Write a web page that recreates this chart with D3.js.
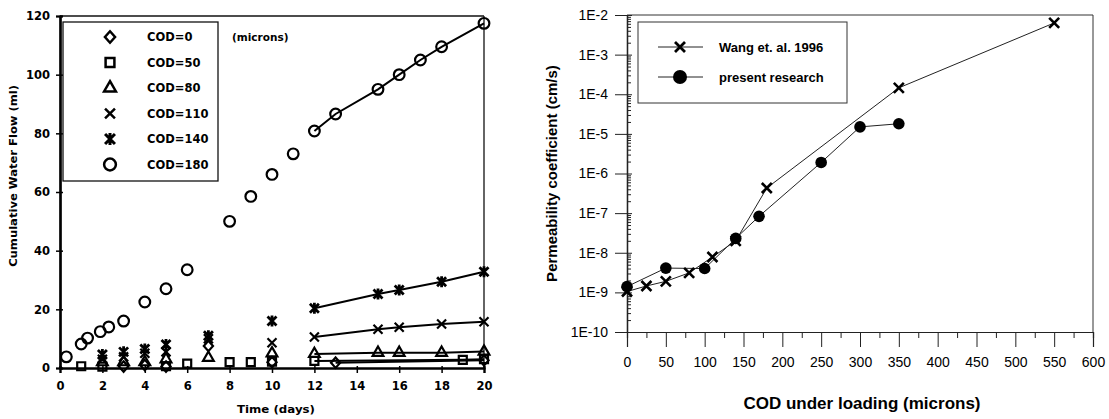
<!DOCTYPE html>
<html><head><meta charset="utf-8">
<script src="https://cdn.jsdelivr.net/npm/d3@7"></script>
<style>body{margin:0;background:#fff}</style>
</head><body>
<svg id="c" width="1109" height="419" xmlns="http://www.w3.org/2000/svg"></svg>
<script>
// ---------- Left chart data ----------
const timeTicks = [0,2,4,6,8,10,12,14,16,18,20];
const flowTicks = [0,20,40,60,80,100,120];
const codLabels = ["COD=0","COD=50","COD=80","COD=110","COD=140","COD=180"];
const cod0Days  = [3,4,5,7,10,13,20];
const cod0Flow  = [0.5,1,0.5,7.5,2,1.8,2.6];
const cod50Days = [1,2,5,6,8,9,10,12,19,20];
const cod50Flow = [0.6,0.5,0.6,1.5,2,2,2.2,2.4,2.8,3.0];
const cod80Days = [2,3,4,5,7,10,12,15,16,18,20];
const cod80Flow = [2,2,2,3,3.5,5,4.8,5.2,5.2,5.2,5.6];
const cod110Days = [2,3,4,5,7,10,12,15,16,18,20];
const cod110Flow = [3,3.8,5,5.5,10,8.6,10.6,13.2,13.9,15,15.8];
const cod140Days = [2,3,4,5,7,10,12,15,16,18,20];
const cod140Flow = [4.6,5.5,6.5,8,11,16,20.4,25.2,26.6,29.4,32.8];
const cod180Days = [0.3,1,1.3,1.9,2.3,3,4,5,6,8,9,10,11,12,13,15,16,17,18,20];
const cod180Flow = [3.8,8.2,10.2,12.4,14,16,22.5,27,33.5,50,58.5,66,73,80.8,86.6,95,100,105,109.5,117.5];
const fitFromDay = 12;
const micronsNote = "(microns)";

// ---------- Right chart data ----------
const codTicks = [0,50,100,150,200,250,300,350,400,450,500,550,600];
const permTickExp = [-10,-9,-8,-7,-6,-5,-4,-3,-2];
const wangCOD = [0,25,50,80,110,140,180,350,550];
const wangK   = [1.05e-9,1.45e-9,1.9e-9,3.1e-9,7.8e-9,2.0e-8,4.3e-7,1.45e-4,6.3e-3];
const presentCOD = [0,50,100,140,170,250,300,350];
const presentK   = [1.4e-9,4.1e-9,4.0e-9,2.3e-8,8.3e-8,1.9e-6,1.5e-5,1.8e-5];
const rightLegend = ["Wang et. al. 1996","present research"];

const svg = d3.select("#c");
const LF = "'DejaVu Sans', sans-serif";
const RF = "'Liberation Sans', Arial, sans-serif";

// ================= LEFT CHART =================
const xL = d3.scaleLinear().domain([0,20]).range([60,484]);
const yL = d3.scaleLinear().domain([0,120]).range([368,16]);
const gL = svg.append("g");

gL.append("line").attr("x1",xL(0)).attr("x2",xL(20)).attr("y1",yL(120)).attr("y2",yL(120)).attr("stroke","#111").attr("stroke-width",1.3);
gL.append("line").attr("x1",xL(20)).attr("x2",xL(20)).attr("y1",yL(120)).attr("y2",yL(0)).attr("stroke","#111").attr("stroke-width",1.3);

gL.append("g").attr("transform",`translate(${xL(0)},0)`)
  .call(d3.axisLeft(yL).tickValues(flowTicks).tickSize(4).tickPadding(6));
gL.append("g").attr("transform",`translate(${xL(0)},0)`)
  .call(d3.axisRight(yL).tickValues(flowTicks).tickSize(3).tickFormat(""));
gL.append("g").attr("transform",`translate(0,${yL(0)})`)
  .call(d3.axisBottom(xL).tickValues(timeTicks).tickSize(5).tickPadding(9));
gL.append("g").attr("transform",`translate(0,${yL(0)})`)
  .call(d3.axisTop(xL).tickValues(timeTicks).tickSize(2).tickFormat(""));
gL.selectAll(".domain").attr("stroke","#000").attr("stroke-width",2.2);
gL.selectAll(".tick line").attr("stroke","#000").attr("stroke-width",1.5);
gL.selectAll(".tick text").attr("font-family",LF).attr("font-weight","bold").attr("font-size","11.5px").attr("fill","#000");

gL.append("text").attr("x",276).attr("y",413).attr("text-anchor","middle")
  .attr("font-family",LF).attr("font-weight","bold").attr("font-size","10px")
  .attr("textLength",78).attr("lengthAdjust","spacingAndGlyphs").text("Time (days)");
gL.append("text").attr("transform",`translate(17,${yL(65.5)}) rotate(-90)`).attr("text-anchor","middle")
  .attr("font-family",LF).attr("font-weight","bold").attr("font-size","10.5px")
  .attr("textLength",182).attr("lengthAdjust","spacingAndGlyphs").text("Cumulative Water Flow (ml)");

const symTypes = ["diamond","square","triangle","x","star","circle"];
function symPath(type, k){
  k = k || 1;
  switch(type){
    case "diamond": return `M0,${-5.2*k}L${4.6*k},0L0,${5.2*k}L${-4.6*k},0Z`;
    case "square": return d3.symbol(d3.symbolSquare,64*k*k)();
    case "triangle": return d3.symbol(d3.symbolTriangle,50*k*k)();
    case "x": return `M${-4.5*k},${-4.5*k}L${4.5*k},${4.5*k}M${-4.5*k},${4.5*k}L${4.5*k},${-4.5*k}`;
    case "star": return `M${-4.5*k},${-4.5*k}L${4.5*k},${4.5*k}M${-4.5*k},${4.5*k}L${4.5*k},${-4.5*k}M0,${-5.5*k}L0,${5.5*k}`;
    case "circle": return d3.symbol(d3.symbolCircle,90*k*k)();
  }
}
const seriesL = [
  {days:cod0Days, flow:cod0Flow},
  {days:cod50Days, flow:cod50Flow},
  {days:cod80Days, flow:cod80Flow},
  {days:cod110Days, flow:cod110Flow},
  {days:cod140Days, flow:cod140Flow},
  {days:cod180Days, flow:cod180Flow}
];
const lineL = d3.line().x(d=>xL(d[0])).y(d=>yL(d[1]));
seriesL.forEach((s,i)=>{
  const pts = s.days.map((d,j)=>[d,s.flow[j]]);
  const fit = pts.filter(p=>p[0]>=fitFromDay);
  gL.append("path").attr("d",lineL(fit)).attr("fill","none").attr("stroke","#000").attr("stroke-width",2);
  gL.selectAll(null).data(pts).enter().append("path")
    .attr("d",symPath(symTypes[i]))
    .attr("transform",p=>`translate(${xL(p[0])},${yL(p[1])})`)
    .attr("fill","none").attr("stroke","#000").attr("stroke-width",i===4?2.8:2.2);
});

gL.append("rect").attr("x",63).attr("y",22).attr("width",155).attr("height",159)
  .attr("fill","#fff").attr("stroke","#111").attr("stroke-width",1.3);
codLabels.forEach((lab,i)=>{
  const yy = 37 + i*25.5;
  gL.append("path").attr("d",symPath(symTypes[i],1.1)).attr("transform",`translate(110,${yy})`)
    .attr("fill","none").attr("stroke","#000").attr("stroke-width",i===4?3:2.5);
  gL.append("text").attr("x",147).attr("y",yy+4).attr("font-family",LF).attr("font-weight","bold")
    .attr("font-size","11.5px").text(lab);
});
gL.append("text").attr("x",232).attr("y",41).attr("font-family",LF).attr("font-weight","bold")
  .attr("font-size","10.5px").text(micronsNote);

// ================= RIGHT CHART =================
const xR = d3.scaleLinear().domain([0,600]).range([627,1093]);
const yR = d3.scaleLog().domain([1e-10,1e-2]).range([332,15]);
const gR = svg.append("g");

gR.append("line").attr("x1",xR(0)).attr("x2",xR(600)).attr("y1",yR(1e-2)).attr("y2",yR(1e-2)).attr("stroke","#333").attr("stroke-width",1);
gR.append("line").attr("x1",xR(600)).attr("x2",xR(600)).attr("y1",yR(1e-2)).attr("y2",yR(1e-10)).attr("stroke","#333").attr("stroke-width",1);

const majorK = permTickExp.map(e=>Math.pow(10,e));
const minorK = [];
permTickExp.slice(0,-1).forEach(e=>{ for(let m=2;m<=9;m++) minorK.push(m*Math.pow(10,e)); });
gR.append("g").attr("transform",`translate(${xR(0)},0)`)
  .call(d3.axisLeft(yR).tickValues(majorK).tickSize(12).tickPadding(7).tickFormat(d=>"1E"+Math.round(Math.log10(d))));
gR.append("g").attr("transform",`translate(${xR(0)},0)`)
  .call(d3.axisRight(yR).tickValues(minorK).tickSize(4).tickFormat(""));
gR.append("g").attr("transform",`translate(${xR(0)},0)`)
  .call(d3.axisRight(yR).tickValues(majorK).tickSize(5).tickFormat(""));

const minorCOD = d3.range(25,600,50);
gR.append("g").attr("transform",`translate(0,${yR(1e-10)})`)
  .call(d3.axisBottom(xR).tickValues(codTicks).tickSize(15).tickPadding(10));
gR.append("g").attr("transform",`translate(0,${yR(1e-10)})`)
  .call(d3.axisBottom(xR).tickValues(minorCOD).tickSize(6).tickFormat(""));
gR.selectAll(".domain").attr("stroke","#222").attr("stroke-width",1.2);
gR.selectAll(".tick line").attr("stroke","#222").attr("stroke-width",1);
gR.selectAll(".tick text").attr("font-family",RF).attr("font-size","14px").attr("fill","#000");

gR.append("text").attr("x",862).attr("y",409).attr("text-anchor","middle")
  .attr("font-family",RF).attr("font-weight","bold").attr("font-size","17px").text("COD under loading (microns)");
gR.append("text").attr("transform",`translate(557,${yR(1e-6)}) rotate(-90)`).attr("text-anchor","middle")
  .attr("font-family",RF).attr("font-weight","bold").attr("font-size","15px").text("Permeability coefficient (cm/s)");

const lineR = d3.line().x(d=>xR(d[0])).y(d=>yR(d[1]));
const wangPts = wangCOD.map((c,i)=>[c,wangK[i]]);
const presPts = presentCOD.map((c,i)=>[c,presentK[i]]);
gR.append("path").attr("d",lineR(wangPts)).attr("fill","none").attr("stroke","#222").attr("stroke-width",1);
gR.append("path").attr("d",lineR(presPts)).attr("fill","none").attr("stroke","#222").attr("stroke-width",1);
const xMark = "M-5,-5L5,5M-5,5L5,-5";
gR.selectAll(null).data(wangPts).enter().append("path").attr("d",xMark)
  .attr("transform",p=>`translate(${xR(p[0])},${yR(p[1])})`).attr("stroke","#000").attr("stroke-width",2.6).attr("fill","none");
gR.selectAll(null).data(presPts).enter().append("circle").attr("r",5.8)
  .attr("cx",p=>xR(p[0])).attr("cy",p=>yR(p[1])).attr("fill","#000");

gR.append("rect").attr("x",638).attr("y",22).attr("width",209).attr("height",81)
  .attr("fill","#fff").attr("stroke","#333").attr("stroke-width",1);
rightLegend.forEach((lab,i)=>{
  const yy = 47 + i*30;
  gR.append("line").attr("x1",658).attr("x2",703).attr("y1",yy).attr("y2",yy).attr("stroke","#222").attr("stroke-width",1);
  if(i===0) gR.append("path").attr("d",xMark).attr("transform",`translate(680,${yy})`).attr("stroke","#000").attr("stroke-width",2.8).attr("fill","none");
  else gR.append("circle").attr("cx",680).attr("cy",yy).attr("r",7).attr("fill","#000");
  gR.append("text").attr("x",719).attr("y",yy+4.5).attr("font-family",RF).attr("font-weight","bold")
    .attr("font-size","13px").text(lab);
});
</script>
</body></html>
